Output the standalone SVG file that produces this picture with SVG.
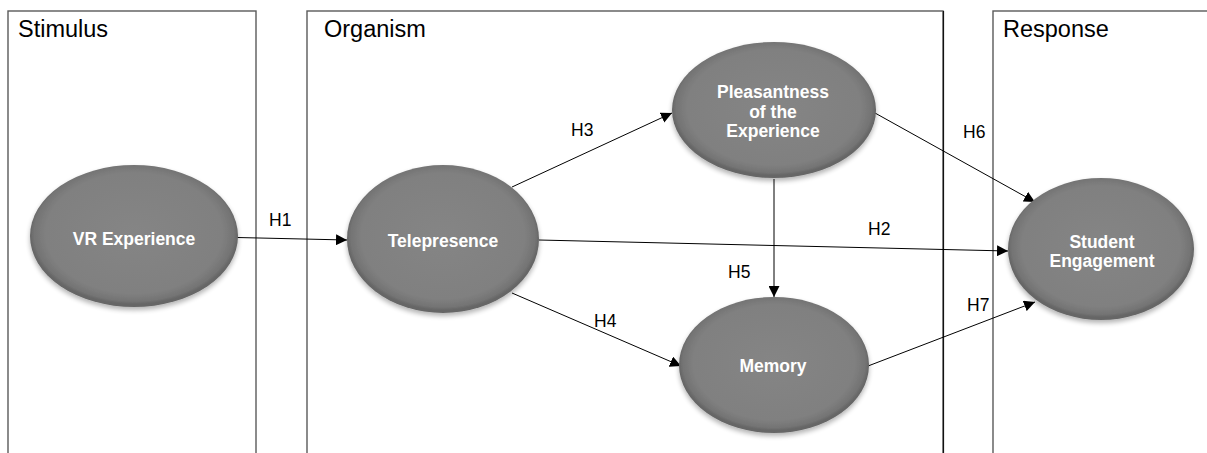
<svg xmlns="http://www.w3.org/2000/svg" width="1207" height="453" viewBox="0 0 1207 453">
<style>
.box{fill:none;stroke:#5a5a5a;stroke-width:1.4}
.title{font-family:"Liberation Sans",Arial,sans-serif;font-size:23.5px;fill:#000}
.node{fill:url(#g);filter:url(#sh)}
.nt{font-family:"Liberation Sans",Arial,sans-serif;font-size:17.5px;font-weight:bold;fill:#fff;text-anchor:middle}
.lbl{font-family:"Liberation Sans",Arial,sans-serif;font-size:17.5px;fill:#000}
.c{stroke:#000;stroke-width:1;fill:none;marker-end:url(#ah)}
</style>
<defs>
<radialGradient id="g" cx="50%" cy="48%" r="50%">
<stop offset="0" stop-color="#858585"/>
<stop offset="0.85" stop-color="#808080"/>
<stop offset="0.96" stop-color="#747474"/>
<stop offset="1" stop-color="#666666"/>
</radialGradient>
<filter id="sh" x="-20%" y="-20%" width="140%" height="150%">
<feGaussianBlur in="SourceAlpha" stdDeviation="2.5"/>
<feOffset dy="3" result="b"/>
<feComponentTransfer in="b" result="s"><feFuncA type="linear" slope="0.3"/></feComponentTransfer>
<feMerge><feMergeNode in="s"/><feMergeNode in="SourceGraphic"/></feMerge>
</filter>
<marker id="ah" viewBox="0 0 10 10" refX="10" refY="5" markerWidth="11" markerHeight="11" markerUnits="userSpaceOnUse" orient="auto">
<path d="M0,0 L10,5 L0,10 z" fill="#000"/>
</marker>
</defs>
<g id="stimulus-box">
<rect class="box" x="8" y="11" width="248" height="460"/>
<text class="title" x="18" y="37">Stimulus</text>
</g>
<g id="organism-box">
<rect class="box" x="307" y="11" width="636" height="460"/>
<line x1="943.5" y1="11" x2="943.5" y2="453" stroke="#111" stroke-width="1.2"/>
<text class="title" x="324" y="37">Organism</text>
</g>
<g id="response-box">
<rect class="box" x="993" y="11" width="240" height="460"/>
<text class="title" x="1003" y="37">Response</text>
</g>
<g id="connectors">
<line class="c" x1="237" y1="237.5" x2="347" y2="240"/>
<line class="c" x1="539" y1="240" x2="1008" y2="251"/>
<line class="c" x1="512" y1="187" x2="672" y2="113"/>
<line class="c" x1="512" y1="293" x2="681" y2="366"/>
<line class="c" x1="774" y1="179" x2="774" y2="297"/>
<line class="c" x1="875" y1="113" x2="1035" y2="202"/>
<line class="c" x1="868" y1="366" x2="1035" y2="302"/>
<text class="lbl" x="269" y="226">H1</text>
<text class="lbl" x="868" y="235">H2</text>
<text class="lbl" x="571" y="136">H3</text>
<text class="lbl" x="594" y="327">H4</text>
<text class="lbl" x="728" y="278">H5</text>
<text class="lbl" x="963" y="138">H6</text>
<text class="lbl" x="967" y="311">H7</text>
</g>
<g id="vr-experience">
<ellipse class="node" cx="134" cy="236" rx="104" ry="71"/>
<text class="nt" x="134" y="245">VR Experience</text>
</g>
<g id="telepresence">
<ellipse class="node" cx="443" cy="239" rx="96" ry="74"/>
<text class="nt" x="443" y="247">Telepresence</text>
</g>
<g id="pleasantness">
<ellipse class="node" cx="774" cy="110" rx="102" ry="68"/>
<text class="nt" x="773" y="98">Pleasantness</text>
<text class="nt" x="773" y="118">of the</text>
<text class="nt" x="773" y="137">Experience</text>
</g>
<g id="memory">
<ellipse class="node" cx="774" cy="365" rx="95" ry="68"/>
<text class="nt" x="773" y="372">Memory</text>
</g>
<g id="student-engagement">
<ellipse class="node" cx="1101" cy="249" rx="93" ry="71"/>
<text class="nt" x="1102" y="248">Student</text>
<text class="nt" x="1102" y="267">Engagement</text>
</g>
</svg>
